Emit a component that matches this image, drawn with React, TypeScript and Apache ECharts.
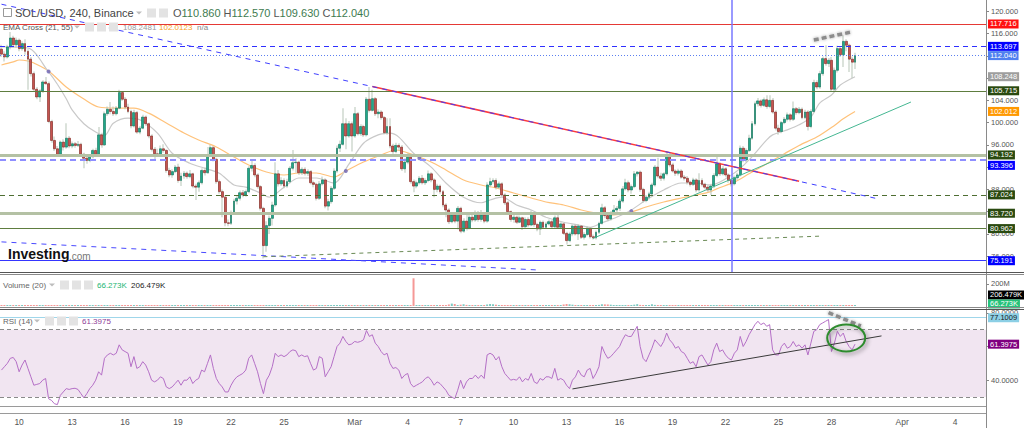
import React, { useEffect, useRef } from 'react';
import * as echarts from 'echarts';

const FONT = '"Liberation Sans", Arial, sans-serif';
const NARROW = '"Liberation Sans Narrow", "Arial Narrow", "Liberation Sans", sans-serif';

// 4h slots starting Feb 9 00:00 (future slots stay empty)
const slotCount = 335;
const tickLabels = ['10', '13', '16', '19', '22', '25', 'Mar', '4', '7', '10', '13', '16', '19', '22', '25', '28', 'Apr', '4'];
const tickDays = [1, 4, 7, 10, 13, 16, 20, 23, 26, 29, 32, 35, 38, 41, 44, 47, 51, 54];

// [open, high, low, close]
const ohlc = [
  [113.2,114.0,111.8,112.3],[112.3,112.8,111.0,111.8],[111.8,114.0,111.5,113.6],[113.6,116.3,113.2,115.2],[115.2,115.6,113.4,114.0],[114.0,115.3,113.5,114.8],[114.8,115.1,112.8,113.3],[113.3,114.6,112.9,114.2],[114.2,115.0,112.2,112.8],[112.8,113.2,105.9,111.4],
  [111.4,111.8,108.3,108.8],[108.8,109.2,105.6,106.0],[106.0,106.4,104.2,104.6],[104.6,106.0,103.7,105.7],[105.7,107.6,105.3,107.3],[107.3,108.2,106.8,107.0],[107.0,107.4,99.9,100.2],[100.2,100.5,96.4,96.8],[96.8,97.5,94.9,95.3],[95.3,95.8,93.8,94.3],
  [94.3,96.8,93.9,96.5],[96.5,97.0,95.0,95.6],[95.6,99.9,95.3,97.2],[97.2,97.6,95.4,95.8],[95.8,96.6,95.4,96.2],[96.2,96.5,95.5,95.9],[95.9,96.7,95.6,96.1],[96.1,96.4,94.0,94.3],[94.3,94.6,91.8,93.6],[93.6,94.0,92.6,93.2],
  [93.2,94.3,92.9,93.9],[93.9,95.3,93.6,95.0],[95.0,95.5,93.9,94.3],[94.3,99.2,94.0,97.8],[97.8,98.2,95.5,96.0],[96.0,102.0,95.8,101.6],[101.6,102.9,101.2,102.4],[102.4,103.7,101.5,102.0],[102.0,102.9,101.2,101.6],[101.6,103.0,101.3,102.6],
  [102.6,105.9,102.4,105.4],[105.4,105.6,103.9,104.2],[104.2,104.6,102.4,102.8],[102.8,103.4,101.7,102.0],[102.0,102.3,99.0,99.4],[99.4,102.3,99.1,101.8],[101.8,102.1,98.0,98.3],[98.3,99.4,97.9,99.0],[99.0,101.4,98.8,101.0],[101.0,101.3,99.4,99.8],
  [99.8,100.0,97.2,97.6],[97.6,97.9,94.8,95.2],[95.2,95.6,93.3,94.4],[94.4,95.3,93.8,94.0],[94.0,95.9,93.8,95.3],[95.3,96.1,94.6,95.0],[95.0,95.2,91.0,91.4],[91.4,91.9,90.2,90.6],[90.6,91.6,90.1,91.2],[91.2,92.4,90.9,92.0],
  [92.0,92.6,89.2,89.6],[89.6,91.0,88.6,90.4],[90.4,91.3,89.9,90.9],[90.9,91.2,89.9,90.3],[90.3,91.5,90.0,90.8],[90.8,91.0,88.2,88.6],[88.6,89.0,86.1,88.4],[88.4,89.6,87.6,89.2],[89.2,91.8,88.9,91.4],[91.4,92.0,90.5,91.0],
  [91.0,95.6,90.8,94.0],[94.0,96.0,93.8,95.5],[95.5,95.8,93.0,93.4],[93.4,93.7,89.0,89.4],[89.4,89.8,87.2,87.6],[87.6,88.0,83.0,86.6],[86.6,86.9,81.4,82.0],[82.0,82.6,81.4,81.9],[81.9,84.2,81.6,83.7],[83.7,86.3,83.4,85.9],
  [85.9,87.0,85.3,86.4],[86.4,87.8,86.0,87.4],[87.4,87.9,86.6,87.0],[87.0,88.0,86.7,87.6],[87.6,92.2,87.3,91.8],[91.8,93.3,91.2,92.3],[92.3,92.7,90.2,90.6],[90.6,90.9,88.1,88.5],[88.5,88.8,84.2,84.6],[84.6,84.9,75.6,77.9],
  [77.9,82.3,76.8,81.5],[81.5,83.3,80.0,82.8],[82.8,85.8,81.5,85.2],[85.2,92.9,84.9,90.8],[90.8,91.5,88.5,89.0],[89.0,90.2,88.6,89.6],[89.6,90.0,88.2,88.6],[88.6,89.9,88.3,89.4],[89.4,92.2,89.1,91.8],[91.8,95.1,91.4,92.8],
  [92.8,93.6,91.0,92.9],[92.9,93.2,90.6,91.0],[91.0,92.0,90.6,91.6],[91.6,92.0,90.5,90.9],[90.9,91.6,90.4,91.2],[91.2,91.5,88.9,89.2],[89.2,89.6,88.4,88.9],[88.9,89.2,86.0,86.4],[86.4,89.5,86.1,89.0],[89.0,90.3,88.7,89.7],
  [89.7,90.0,84.6,85.0],[85.0,86.3,84.2,85.8],[85.8,88.6,85.4,88.2],[88.2,91.8,87.9,91.3],[91.3,95.9,91.0,95.4],[95.4,96.8,94.7,96.1],[96.1,102.6,95.9,99.8],[99.8,100.8,95.2,97.6],[97.6,100.3,97.3,99.8],[99.8,100.2,94.8,97.6],
  [97.6,102.8,97.3,101.6],[101.6,101.9,97.7,98.0],[98.0,99.7,97.6,99.3],[99.3,99.6,97.4,97.8],[97.8,104.6,97.5,104.2],[104.2,106.4,101.8,102.2],[102.2,105.9,102.0,104.3],[104.3,104.6,101.2,101.6],[101.6,102.4,100.8,101.9],[101.9,102.2,100.5,100.9],
  [100.9,101.2,97.9,98.2],[98.2,100.8,97.8,99.3],[99.3,100.8,95.4,95.8],[95.8,96.2,94.4,94.8],[94.8,96.4,94.5,95.9],[95.9,96.3,95.0,95.6],[95.6,96.0,91.3,91.7],[91.7,93.6,91.0,92.9],[92.9,94.5,92.5,93.8],[93.8,94.1,89.0,89.4],
  [89.4,89.8,87.5,88.6],[88.6,89.6,88.2,89.2],[89.2,90.4,88.9,90.0],[90.0,90.6,88.9,89.2],[89.2,90.0,88.8,89.6],[89.6,91.4,89.3,90.8],[90.8,91.1,89.3,89.7],[89.7,90.0,86.6,88.0],[88.0,89.0,87.5,88.6],[88.6,88.9,87.2,87.6],
  [87.6,87.9,84.8,85.2],[85.2,85.5,83.0,84.3],[84.3,84.6,81.8,82.2],[82.2,83.8,81.9,83.4],[83.4,83.7,81.9,82.3],[82.3,85.0,80.8,84.6],[84.6,84.9,80.1,80.5],[80.5,82.8,80.2,82.3],[82.3,83.5,80.6,81.0],[81.0,83.5,80.8,83.0],
  [83.0,83.6,82.1,82.5],[82.5,84.2,82.2,83.8],[83.8,84.1,82.2,82.6],[82.6,84.3,82.2,83.4],[83.4,83.7,81.9,82.3],[82.3,89.3,82.0,88.8],[88.8,90.1,88.4,89.4],[89.4,90.0,89.0,89.6],[89.6,90.0,88.0,88.4],[88.4,89.4,88.1,89.0],
  [89.0,89.3,86.7,87.0],[87.0,87.3,85.2,85.6],[85.6,85.9,83.5,84.0],[84.0,84.2,82.2,82.6],[82.6,83.4,82.0,83.0],[83.0,83.3,81.8,82.1],[82.1,83.3,81.9,82.9],[82.9,83.1,80.7,81.3],[81.3,83.0,81.0,82.6],[82.6,83.0,81.2,81.6],
  [81.6,84.2,81.4,83.5],[83.5,83.8,81.3,81.7],[81.7,82.0,80.5,80.9],[80.9,82.4,79.8,82.1],[82.1,82.4,80.9,81.2],[81.2,82.2,81.0,81.8],[81.8,82.6,81.5,82.2],[82.2,82.5,81.0,81.3],[81.3,83.3,81.0,82.9],[82.9,83.6,80.9,81.2],
  [81.2,82.1,80.9,81.8],[81.8,82.0,79.8,80.1],[80.1,80.4,78.1,78.8],[78.8,80.4,78.5,80.0],[80.0,81.7,79.6,81.4],[81.4,81.7,79.7,80.0],[80.0,81.8,78.9,81.4],[81.4,81.6,79.1,79.4],[79.4,80.3,79.0,79.9],[79.9,81.4,79.6,81.0],
  [81.0,81.2,79.2,79.5],[79.5,79.9,79.0,79.3],[79.3,80.6,79.0,80.3],[80.3,82.2,80.0,81.9],[81.9,85.4,81.7,84.7],[84.7,85.0,82.8,83.3],[83.3,83.7,82.3,82.7],[82.7,84.1,82.4,83.7],[83.7,85.2,83.4,84.3],[84.3,85.0,83.5,84.6],
  [84.6,86.3,84.1,85.9],[85.9,88.6,85.6,88.1],[88.1,89.9,87.8,89.2],[89.2,89.6,87.5,87.9],[87.9,88.9,87.2,88.5],[88.5,91.3,88.2,90.8],[90.8,91.3,90.3,91.1],[91.1,91.4,87.6,88.0],[88.0,88.3,85.6,86.0],[86.0,87.0,85.7,86.6],
  [86.6,87.6,86.2,87.2],[87.2,89.2,86.9,88.8],[88.8,92.4,88.5,92.0],[92.0,93.7,90.0,90.4],[90.4,91.0,89.5,90.0],[90.0,91.1,89.6,90.8],[90.8,94.7,90.5,94.0],[94.0,94.6,92.0,92.4],[92.4,92.8,91.0,91.3],[91.3,91.6,90.4,90.9],
  [90.9,91.7,90.5,91.3],[91.3,91.6,89.9,90.2],[90.2,90.6,89.6,90.0],[90.0,90.4,88.9,89.3],[89.3,89.6,88.5,88.9],[88.9,90.1,88.6,89.7],[89.7,90.0,87.5,87.9],[87.9,90.9,87.6,89.6],[89.6,90.0,88.5,88.9],[88.9,89.2,88.0,88.4],
  [88.4,88.8,87.5,87.9],[87.9,89.0,87.0,88.6],[88.6,90.9,88.2,90.5],[90.5,93.8,90.2,92.6],[92.6,92.9,90.4,90.8],[90.8,92.2,90.5,91.7],[91.7,92.0,90.2,90.6],[90.6,90.9,89.2,89.6],[89.6,89.9,88.5,89.0],[89.0,90.5,88.7,90.1],
  [90.1,91.0,89.7,90.6],[90.6,95.9,90.3,95.4],[95.4,95.8,92.9,93.3],[93.3,95.4,92.9,95.0],[95.0,97.8,94.7,97.2],[97.2,100.3,96.9,99.8],[99.8,103.8,99.5,103.4],[103.4,104.4,102.9,103.9],[103.9,104.2,102.7,103.1],[103.1,104.5,102.8,104.1],
  [104.1,104.9,102.5,102.9],[102.9,104.9,102.6,104.0],[104.0,104.4,101.6,101.9],[101.9,102.2,98.6,99.0],[99.0,99.6,97.8,98.4],[98.4,100.3,98.1,100.0],[100.0,101.0,99.7,100.6],[100.6,101.8,100.2,101.4],[101.4,101.7,100.2,100.6],[100.6,103.8,100.3,102.5],
  [102.5,102.8,101.4,101.8],[101.8,102.8,101.5,102.4],[102.4,102.7,100.6,100.9],[100.9,102.3,100.6,101.9],[101.9,102.2,98.6,99.3],[99.3,102.4,99.0,102.0],[102.0,107.7,101.8,107.2],[107.2,107.6,106.0,106.4],[106.4,109.3,106.1,108.8],[108.8,111.9,108.4,111.5],
  [111.5,113.9,110.2,110.6],[110.6,111.6,110.0,111.2],[111.2,111.8,105.6,106.0],[106.0,109.9,105.5,109.4],[109.4,113.8,109.0,113.3],[113.3,113.6,111.8,112.2],[112.2,115.7,110.0,114.6],[114.6,115.0,112.8,113.9],[113.9,114.2,109.1,111.4],[111.4,111.9,108.0,110.86],[110.86,112.57,109.63,112.04]
];

// volume, millions
const volumeM = [
  2,1,1,2,1,1,2,1,2,3,2,2,1,1,2,3,2,2,1,1,
  1,2,1,1,1,1,1,2,1,1,1,1,1,2,1,2,1,1,1,1,
  2,1,1,1,2,1,2,1,1,1,1,2,1,1,1,1,2,1,1,1,
  2,1,1,1,1,2,1,1,1,1,2,1,1,2,1,2,2,1,1,1,
  1,1,1,1,2,1,1,1,2,3,2,1,2,3,1,1,1,1,1,2,
  1,1,1,1,1,1,1,2,1,1,2,1,1,1,2,1,2,1,1,1,
  2,1,1,1,2,2,2,2,1,1,1,1,2,1,1,1,2,1,1,2,
  252,
  6,5,6,5,5,6,5,7,5,6,8,14,22,18,8,12,16,10,7,6,
  6,5,6,7,14,18,16,12,6,7,8,6,5,6,5,5,6,5,6,6,
  6,5,5,6,5,5,6,5,6,7,14,18,16,12,8,6,7,6,6,5,
  6,6,10,16,15,14,12,8,6,7,8,7,6,8,12,17,10,8,6,7,
  16,10,7,6,6,8,7,6,5,5,6,5,5,6,6,7,6,5,5,6,
  5,6,7,6,6,5,5,5,6,5,8,7,6,7,6,8,6,6,5,6,
  6,7,7,6,5,5,5,6,5,6,6,5,5,6,6,7,9,7,6,7,
  8,6,9,7,6,5,5,7,6,5
];

const rsi14 = [
  46,48,50,53,53.5,51,45,49,52,47, 42,37,37.5,38,40,41,29,28,26,25.5,
  31,33,35,34.5,35,35.2,34.5,32,29.5,32, 35,37,40,45,43,53,55,56,55,56,
  61,58,57,56,48,54,47,48,51,49, 45,40,39,40,42,41,36,35,36,38,
  40,37,40,40,42,38,40,41,46,45, 50,55,47,41,38,36,33,33,37,40,
  42,43,44,46,53,55,50,45,38,32, 40,43,48,56,54,55,54,55,57,58,
  57.5,54,55,54,54.5,50,46,47,54,53, 42,45,48,54,60,62,66,63,61,61.5,
  63,62.5,63,64,69.5,66,67,62,60,57, 55,56,50,47,47.5,46,41,43,44,38,
  36,37,38,39,41,42,40,37,39,38, 36,34,31,30,29,34,40,35,39,41,
  41,43,41,43,41,55,56,55,52,54, 48,44,42,40,40.5,40,42,39,41,40,
  44,39,38,41,40,42,42,41,47,40, 41,40,37,35,40,42,46,43,42,46,
  47,41,44,48,60,56,53,54,56,58, 60,64,67,66,66,69,72,60,53,51,
  55,59,64,62,60,63,68,64,62,59, 60,57,56,53,50,51,48,54,55,52,
  49,51,58,62,57,58,55,53,52,56, 58,66,60,63,67,70,73,75,73,74,
  72,73,58,55,55,60,62,59,60,63, 60,61,59,61,55,62,69,70,73,74,
  75,76,57,62,69,66,68,63,60,58,61.3975
];

// EMA readings: [slot index, value]
const ema21 = [
  [0,113.6],[9,113.4],[16,109.1],[19,106.9],[22,104.3],[24,102.3],[28,99.8],[32,98.3],[35,97.7],[38,99.9],[43,100.8],[47,100.5],
  [53,98.1],[58,94.5],[64,92.7],[69,91.8],[74,90.9],[79,88.8],[83,88.4],[88,87.35],[91,86.6],[96,88.4],[101,90.05],[107,90.05],
  [113,89.15],[118,92.5],[123,96.3],[128,97.8],[132,98.1],[135,97.4],[140,94.5],[146,92.0],[151,89.15],[157,86.6],[163,85.6],
  [166,86.1],[170,86.6],[175,85.2],[180,84.3],[185,83.0],[191,82.1],[196,81.6],[200,81.2],[204,82.0],[209,83.0],[214,84.3],
  [219,86.1],[225,87.9],[231,89.15],[236,89.15],[241,88.8],[249,90.95],[254,93.3],[260,96.9],[262,97.8],[267,98.7],[271,99.6],
  [275,101.0],[278,103.5],[282,104.96],[285,106.76],[290,108.2481]
];
const ema55 = [
  [0,110.35],[4,110.9],[6,111.25],[9,111.07],[11,110.7],[16,109.27],[22,106.4],[28,104.24],[33,102.8],[39,102.6],[45,102.6],
  [50,101.7],[56,99.93],[62,98.13],[67,96.88],[73,95.62],[79,93.82],[84,92.38],[90,91.13],[96,90.59],[101,90.95],[107,90.95],
  [113,90.23],[117,91.3],[123,92.92],[129,94.18],[134,95.08],[140,94.18],[146,92.92],[151,91.49],[157,89.69],[163,88.79],
  [168,88.25],[174,87.35],[180,86.45],[185,85.74],[191,85.2],[197,84.3],[202,83.76],[208,83.4],[214,83.94],[219,84.84],
  [225,85.74],[231,86.45],[236,86.99],[241,87.6],[243,88.1],[249,89.3],[254,90.8],[260,92.6],[266,94.4],[271,95.9],
  [277,97.4],[283,99.5],[286,100.7],[290,102.0123]
];
const emaCrosses = [[16, 109.2], [117, 91.3], [142, 93.6], [214, 84.1]];

const priceLevels = [117.716, 113.697, 112.04, 105.715, 94.192, 93.396, 87.024, 83.72, 80.962, 75.191];
const priceTicks = [76, 80, 84, 88, 92, 96, 100, 104, 108, 112, 116, 120];
// tick labels left uncovered by the level boxes
const priceTickLabels = [76, 80, 88, 96, 100, 104, 116, 120];
const rsiBands = [70, 30];
const rsiLevels = [77.1009];
const rsiTicks = [40, 60, 80];
const rsiTickLabels = [40, 80];
const volumeTicks = [200];
const volumeMarks = [206.479, 66.273]; // K

// drawn trend lines, [slot index, value]
const descLine = [[0, 121.27], [297, 86.4]];
const redLine = [[126, 106.48], [271, 89.46]];
const lowerDesc = [[0, 78.57], [183, 73.5]];
const lowsLine = [[89, 75.9], [278, 79.6]];
const supportLine = [[201, 79.2], [309.4, 103.7]];
const wedgeTop = [[276.4, 114.84], [289.3, 116.3]];
const markerSlot = 248;
const rsiTrend = [[193.9, 34.8], [298.5, 66.3]];
const rsiWedge = [[281, 80.1], [292.4, 72.2]];
const rsiCircle = [287.3, 65.1];

const levelStyles = [
  { color: '#e53935', type: 'solid', width: 1, box: '#ff1010' },
  { color: '#2f2fff', type: [5, 4], width: 1, box: '#0000ff' },
  { color: '#5b7ff0', type: [1, 2], width: 1, box: '#4f7ff0' },
  { color: '#5e7d3f', type: 'solid', width: 1, box: '#2a4a10' },
  { color: '#b4c1a4', type: 'solid', width: 3, box: '#2a4a10' },
  { color: '#8f8fff', type: [6, 4], width: 2, box: '#0000ff', dy: 6 },
  { color: '#4e6e32', type: [5, 4], width: 1, box: '#2a4a10' },
  { color: '#b4c1a4', type: 'solid', width: 3, box: '#2a4a10' },
  { color: '#5e7d3f', type: 'solid', width: 1, box: '#2a4a10' },
  { color: '#3535ff', type: 'solid', width: 1, box: '#0000ff' },
];

const HIDDEN_LINE = { color: 'rgba(0,0,0,0)', width: 0 };

const boxLabel = (text: string, bg: string, fg: string, dy = 0) => ({
  show: true, position: 'end', distance: 2, formatter: text, backgroundColor: bg, color: fg,
  fontSize: 7.5, fontFamily: FONT, padding: [1, 2, 0, 2], lineHeight: 8, offset: [0, dy],
});
const seg = (pts: number[][], lineStyle: any) => [
  { coord: pts[0], lineStyle, label: { show: false } },
  { coord: pts[1] },
];

function buildOption() {
  const categories = Array.from({ length: slotCount }, (_, i) => String(i));
  const labelAt: Record<number, string> = {};
  tickDays.forEach((d, k) => { labelAt[d * 6] = tickLabels[k]; });

  const wickData = ohlc.map(([o, h, l, c]) => [l, h, l, h]);
  const bodyData = ohlc.map(([o, h, l, c]) => [o, c, Math.min(o, c), Math.max(o, c)]);
  const volData = volumeM.map((v, i) => ({
    value: v,
    itemStyle: { color: ohlc[i][3] >= ohlc[i][0] ? 'rgba(38,166,154,0.6)' : 'rgba(239,83,80,0.6)' },
  }));
  const ema21Last = ema21[ema21.length - 1][1];
  const ema55Last = ema55[ema55.length - 1][1];
  const rsiLast = rsi14[rsi14.length - 1];

  const xAx = (gridIndex: number, show: boolean) => ({
    type: 'category', gridIndex, data: categories, boundaryGap: true, show,
    offset: 7,
    axisLine: { show, lineStyle: { color: '#9a9a9a' } },
    axisTick: { show: false },
    splitLine: { show: false },
    axisLabel: {
      show, interval: (idx: number) => labelAt[idx] !== undefined,
      formatter: (v: string) => labelAt[Number(v)] ?? '',
      fontSize: 8.5, color: '#555', margin: 4, fontFamily: NARROW,
    },
  });
  const yAx = (gridIndex: number, min: number, max: number, ticks: number[], labels: number[], fmt: (v: number) => string) => ({
    type: 'value', gridIndex, position: 'right', min, max,
    splitLine: { show: false }, axisLine: { show: false },
    axisTick: { show: true, length: 3, lineStyle: { color: '#888' }, customValues: ticks },
    axisLabel: { customValues: labels, formatter: fmt, fontSize: 7.5, color: '#555', margin: 5, fontFamily: FONT },
  });

  const levelLines = priceLevels.map((v, k) => {
    const s = levelStyles[k];
    return {
      yAxis: v,
      lineStyle: { color: s.color, type: s.type, width: s.width },
      label: boxLabel(v.toFixed(3), s.box, '#fff', s.dy || 0),
    };
  });

  return {
    animation: false,
    backgroundColor: '#ffffff',
    grid: [
      { left: 0, top: 0, width: 986, height: 272, outerBoundsMode: 'none', containLabel: false },
      { left: 0, top: 275, width: 986, height: 31, outerBoundsMode: 'none', containLabel: false },
      { left: 0, top: 310, width: 986, height: 96, outerBoundsMode: 'none', containLabel: false },
    ],
    xAxis: [xAx(0, false), xAx(1, false), xAx(2, true)],
    yAxis: [
      yAx(0, 73.16, 122.03, priceTicks, priceTickLabels, (v) => v.toFixed(3)),
      yAx(1, 0, 281.8, volumeTicks, volumeTicks, (v) => v + 'M'),
      yAx(2, 24.66, 81.7, rsiTicks, rsiTickLabels, (v) => v.toFixed(4)),
    ],
    series: [
      {
        type: 'line', name: 'EMA55', xAxisIndex: 0, yAxisIndex: 0, data: ema55, smooth: 0.3,
        showSymbol: false, z: 1, lineStyle: { color: '#ffc27a', width: 1.2 }, silent: true,
      },
      {
        type: 'line', name: 'EMA21', xAxisIndex: 0, yAxisIndex: 0, data: ema21, smooth: 0.3,
        showSymbol: false, z: 1, lineStyle: { color: '#c9c9c9', width: 1.2 }, silent: true,
      },
      {
        type: 'candlestick', name: 'wick', xAxisIndex: 0, yAxisIndex: 0, data: wickData, barWidth: 1.5, z: 2,
        silent: true,
        itemStyle: { color: '#b7c6b7', color0: '#b7c6b7', borderColor: '#b7c6b7', borderColor0: '#b7c6b7', borderWidth: 0 },
      },
      {
        type: 'candlestick', name: 'SOL/USD', xAxisIndex: 0, yAxisIndex: 0, data: bodyData, barWidth: 2.4, z: 3,
        silent: true,
        itemStyle: { color: '#20a88a', color0: '#c65450', borderColor: '#0f6f58', borderColor0: '#7e211d', borderWidth: 0.6 },
        markLine: {
          silent: true, symbol: ['none', 'none'], label: { show: false },
          emphasis: { disabled: true },
          data: [
            ...levelLines,
            { yAxis: ema21Last, lineStyle: HIDDEN_LINE, label: boxLabel(ema21Last.toFixed(3), '#9e9e9e', '#fff') },
            { yAxis: ema55Last, lineStyle: HIDDEN_LINE, label: boxLabel(ema55Last.toFixed(3), '#ff9800', '#fff') },
            { xAxis: markerSlot, lineStyle: { color: '#7878ff', width: 1.5, type: 'solid' }, label: { show: false } },
            seg(redLine, { color: '#ff3b3b', width: 1.5, type: 'solid' }),
            seg(descLine, { color: '#3f3fff', width: 1, type: [5, 5] }),
            seg(lowerDesc, { color: '#4a4aff', width: 1, type: [5, 5] }),
            seg(lowsLine, { color: '#6a8a55', width: 1, type: [4, 4] }),
            seg(supportLine, { color: '#45b792', width: 1, type: 'solid' }),
            seg(wedgeTop, { color: '#8c8c8c', width: 3.5, type: [5, 3], shadowBlur: 3, shadowColor: 'rgba(0,0,0,0.35)' }),
          ],
        },
      },
      {
        type: 'scatter', name: 'cross', xAxisIndex: 0, yAxisIndex: 0, data: emaCrosses, symbolSize: 4, z: 4,
        itemStyle: { color: '#6c63b5' }, silent: true,
      },
      {
        type: 'bar', name: 'Volume', xAxisIndex: 1, yAxisIndex: 1, data: volData, barWidth: 2, barMinHeight: 1,
        silent: true,
        markLine: {
          silent: true, symbol: ['none', 'none'], emphasis: { disabled: true },
          data: [
            { yAxis: volumeMarks[0] / 1000, lineStyle: HIDDEN_LINE, label: boxLabel(volumeMarks[0].toFixed(3) + 'K', '#000', '#fff', -11) },
            { yAxis: volumeMarks[1] / 1000, lineStyle: HIDDEN_LINE, label: boxLabel(volumeMarks[1].toFixed(3) + 'K', '#26c27a', '#fff', -2) },
          ],
        },
      },
      {
        type: 'line', name: 'RSI', xAxisIndex: 2, yAxisIndex: 2, data: rsi14, showSymbol: false, z: 2, silent: true,
        lineStyle: { color: '#b46fc6', width: 1 },
        markArea: {
          silent: true, itemStyle: { color: '#f1e5f1' },
          data: [[{ yAxis: rsiBands[1] }, { yAxis: rsiBands[0] }]],
        },
        markLine: {
          silent: true, symbol: ['none', 'none'], label: { show: false }, emphasis: { disabled: true },
          data: [
            ...rsiBands.map((v) => ({ yAxis: v, lineStyle: { color: '#8a8a8a', type: [4, 3], width: 1 } })),
            { yAxis: rsiLevels[0], lineStyle: { color: '#9fd6ea', type: 'solid', width: 1 }, label: boxLabel(rsiLevels[0].toFixed(4), '#8ccfe5', '#1a1a1a') },
            { yAxis: rsiLast, lineStyle: HIDDEN_LINE, label: boxLabel(rsiLast.toFixed(4), '#800080', '#fff') },
            seg(rsiTrend, { color: '#3a3a3a', width: 1, type: 'solid' }),
            seg(rsiWedge, { color: '#8c8c8c', width: 3.5, type: [5, 3], shadowBlur: 3, shadowColor: 'rgba(0,0,0,0.35)' }),
          ],
        },
      },
    ],
  };
}

function buildGraphics(ex: number, ey: number) {
  const last = ohlc[ohlc.length - 1];
  const ema21Last = ema21[ema21.length - 1][1];
  const ema55Last = ema55[ema55.length - 1][1];
  const rsiLast = rsi14[rsi14.length - 1];
  const T = (x: number, y: number, text: string, fill: string, size: number, extra: any = {}) => ({
    type: 'text', x, y, z: 100, silent: true,
    style: { text, fill, fontSize: size, fontFamily: FONT, verticalAlign: 'middle', ...extra },
  });
  const R = (x: number, y: number, w: number, h: number, fill: string, stroke?: string) => ({
    type: 'rect', z: 100, silent: true, shape: { x, y, width: w, height: h },
    style: { fill, stroke: stroke || null, lineWidth: stroke ? 1 : 0 },
  });
  const L = (x1: number, y1: number, x2: number, y2: number, stroke: string, w = 1) => ({
    type: 'line', z: 99, silent: true, shape: { x1, y1, x2, y2 }, style: { stroke, lineWidth: w },
  });
  const tri = (x: number, y: number) => ({
    type: 'polygon', z: 100, silent: true,
    shape: { points: [[x, y - 1.5], [x + 6, y - 1.5], [x + 3, y + 1.5]] }, style: { fill: '#bdbdbd' },
  });
  const icons = (x: number, y: number) => [R(x, y, 9, 9, '#e3e3e3'), R(x + 12, y, 9, 9, '#e3e3e3'), R(x + 24, y, 9, 9, '#e3e3e3')];
  const f3 = (v: number) => v.toFixed(3);

  return [
    L(986.5, 0, 986.5, 428, '#8a8a8a'),
    L(0, 272.5, 1024, 272.5, '#555'),
    L(0, 274.5, 1024, 274.5, '#8a8a8a'),
    L(0, 307.5, 1024, 307.5, '#8a8a8a'),
    L(0, 309.5, 1024, 309.5, '#555'),
    L(0, 406.5, 986, 406.5, '#9a9a9a'),
    R(3.5, 8.5, 8, 8, '#ffffff', '#999'),
    L(5.5, 12.5, 9.5, 12.5, '#999'),
    T(15, 13, 'SOL/USD, 240, Binance', '#444', 11),
    tri(136, 13),
    R(147, 8.5, 9, 9, '#e3e3e3'),
    R(159, 8.5, 9, 9, '#e3e3e3'),
    {
      type: 'text', x: 173, y: 13, z: 100, silent: true,
      style: {
        text: `{l|O}{v|${f3(last[0])}} {l|H}{v|${f3(last[1])}} {l|L}{v|${f3(last[2])}} {l|C}{v|${f3(last[3])}}`,
        verticalAlign: 'middle', fontSize: 11, fontFamily: FONT, fill: '#555',
        rich: {
          l: { fill: '#555', color: '#555', fontSize: 11, fontFamily: FONT },
          v: { fill: '#3e7b50', color: '#3e7b50', fontSize: 11, fontFamily: FONT },
        },
      },
    },
    T(3, 27, 'EMA Cross (21, 55)', '#555', 8),
    tri(74, 27),
    ...icons(85, 22.5),
    T(123, 27, ema21Last.toFixed(4), '#9b9b9b', 8),
    T(159, 27, ema55Last.toFixed(4), '#f7a21b', 8),
    T(197, 27, 'n/a', '#888', 8),
    T(3, 285, 'Volume (20)', '#666', 8),
    tri(49, 285),
    ...icons(60, 280.5),
    T(97, 285, volumeMarks[1].toFixed(3) + 'K', '#22b573', 8),
    T(131, 285, volumeMarks[0].toFixed(3) + 'K', '#222', 8),
    T(3, 321, 'RSI (14)', '#666', 8),
    tri(34, 321),
    ...icons(45, 316.5),
    T(82, 321, rsiLast.toFixed(4), '#8e3c97', 8),
    T(8, 261, 'Investing', '#111', 14, { fontWeight: 'bold', verticalAlign: 'bottom' }),
    T(69, 261, '.com', '#777', 10, { verticalAlign: 'bottom' }),
    {
      type: 'ellipse', z: 101, silent: true,
      shape: { cx: ex, cy: ey, rx: 19, ry: 13.5 },
      style: {
        fill: 'none', stroke: '#2e8b2e', lineWidth: 2,
        shadowBlur: 4, shadowColor: 'rgba(0,0,0,0.45)', shadowOffsetX: 1.5, shadowOffsetY: 2,
      },
    },
  ];
}

export default function App() {
  const ref = useRef<HTMLDivElement>(null);
  useEffect(() => {
    document.body.style.margin = '0';
    const chart = echarts.init(ref.current as HTMLDivElement, null, { renderer: 'svg' });
    chart.setOption(buildOption() as any);
    let ex = 847, ey = 338;
    try {
      const p = chart.convertToPixel({ gridIndex: 2 } as any, rsiCircle) as number[];
      if (p && isFinite(p[0]) && isFinite(p[1])) { ex = p[0]; ey = p[1]; }
    } catch (e) { /* keep defaults */ }
    chart.setOption({ graphic: buildGraphics(ex, ey) } as any);
    return () => chart.dispose();
  }, []);
  return <div ref={ref} style={{ width: 1024, height: 428 }} />;
}
